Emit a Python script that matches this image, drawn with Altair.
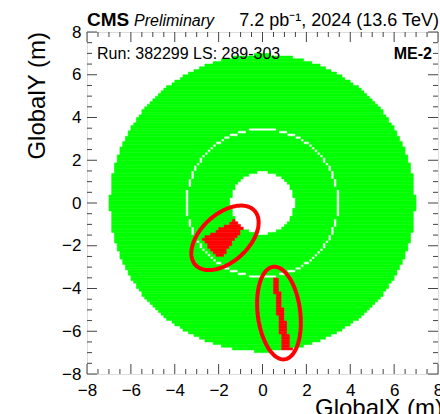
import altair as alt
import numpy as np
import pandas as pd

# Axis range (m) and 2D histogram binning
AXIS_MIN, AXIS_MAX = -8.0, 8.0
BIN_SIZE = 0.125
MAJOR_STEP, MINOR_STEP = 2.0, 0.5

# Station geometry (m): central hole, boundary between inner/outer ring, outer edge
R_HOLE = 1.45
R_SPLIT = 3.45
R_SPLIT_HALF_GAP = 0.05
R_OUTER = 6.95

# Chambers flagged as hot: radial extent (m) and azimuth range (deg)
HOT_R_IN = [1.45, 3.50]
HOT_R_OUT = [3.20, 6.95]
HOT_PHI_LO = [211.0, 277.5]
HOT_PHI_HI = [234.0, 281.0]

# Highlight ellipses around the hot chambers (m, deg)
ELL_CX = [-1.71, 0.75]
ELL_CY = [-1.63, -5.15]
ELL_A = [1.85, 2.18]
ELL_B = [1.10, 0.97]
ELL_TILT = [44.0, 96.7]

GREEN, RED = "#00ff00", "#ff0000"
FONT = "Liberation Sans"
W, H = 351, 342

# ---- occupancy map -------------------------------------------------------
edges = np.arange(AXIS_MIN, AXIS_MAX + BIN_SIZE / 2, BIN_SIZE)
centers = (edges[:-1] + edges[1:]) / 2
xc, yc = np.meshgrid(centers, centers)
r = np.hypot(xc, yc)
phi = np.degrees(np.arctan2(yc, xc)) % 360

status = np.zeros(xc.shape, dtype=int)
live = (r >= R_HOLE) & (r <= R_OUTER) & (np.abs(r - R_SPLIT) >= R_SPLIT_HALF_GAP)
status[live] = 1
for i in range(len(HOT_R_IN)):
    hot = (live & (r >= HOT_R_IN[i]) & (r <= HOT_R_OUT[i])
           & (phi >= HOT_PHI_LO[i]) & (phi <= HOT_PHI_HI[i]))
    status[hot] = 2

# merge neighbouring bins of a row into runs to keep the SVG light
runs = []
n = len(centers)
for j in range(n):
    row = status[j]
    k = 0
    while k < n:
        if row[k] == 0:
            k += 1
            continue
        start, val = k, row[k]
        while k < n and row[k] == val:
            k += 1
        runs.append({"x0": edges[start], "x1": edges[k],
                     "y0": edges[j], "y1": edges[j + 1],
                     "state": "live" if val == 1 else "hot"})
cells = pd.DataFrame(runs)

xscale = alt.Scale(domain=[AXIS_MIN, AXIS_MAX], nice=False, zero=False)
yscale = alt.Scale(domain=[AXIS_MIN, AXIS_MAX], nice=False, zero=False)
state_scale = alt.Scale(domain=["live", "hot"], range=[GREEN, RED])
major_vals = [float(v) for v in np.arange(AXIS_MIN, AXIS_MAX + 0.01, MAJOR_STEP)]

x_axis = alt.Axis(values=major_vals, ticks=False, tickSize=0, domain=False, grid=False,
                  labelFont=FONT, labelFontSize=17, labelColor="black",
                  labelPadding=8, labelFlush=False, labelOverlap=False, title=None)
y_axis = alt.Axis(values=major_vals, ticks=False, tickSize=0, domain=False, grid=False,
                  labelFont=FONT, labelFontSize=17, labelColor="black",
                  labelPadding=6, labelFlush=False, labelOverlap=False, title=None)


def xenc(field):
    return alt.X(field, scale=xscale, axis=x_axis)


def yenc(field):
    return alt.Y(field, scale=yscale, axis=y_axis)


occupancy = alt.Chart(cells).mark_rect(strokeWidth=0.5).encode(
    x=xenc("x0:Q"),
    x2="x1:Q",
    y=yenc("y0:Q"),
    y2="y1:Q",
    color=alt.Color("state:N", scale=state_scale, legend=None),
    stroke=alt.Stroke("state:N", scale=state_scale, legend=None),
)

# ---- highlight ellipses --------------------------------------------------
ell_rows = []
t = np.linspace(0, 2 * np.pi, 121)
for i in range(len(ELL_CX)):
    a, b = ELL_A[i], ELL_B[i]
    th = np.radians(ELL_TILT[i])
    ex = ELL_CX[i] + a * np.cos(t) * np.cos(th) - b * np.sin(t) * np.sin(th)
    ey = ELL_CY[i] + a * np.cos(t) * np.sin(th) + b * np.sin(t) * np.cos(th)
    for k in range(len(t)):
        ell_rows.append({"id": i, "k": k, "ex": ex[k], "ey": ey[k]})
ellipses = alt.Chart(pd.DataFrame(ell_rows)).mark_line(
    color=RED, strokeWidth=4
).encode(
    x=xenc("ex:Q"),
    y=yenc("ey:Q"),
    detail="id:N",
    order="k:Q",
)

# ---- inward ticks on all four sides --------------------------------------
all_vals = np.arange(AXIS_MIN, AXIS_MAX + 0.01, MINOR_STEP)
is_major = [abs(v / MAJOR_STEP - round(v / MAJOR_STEP)) < 1e-9 for v in all_vals]
major_df = pd.DataFrame({"v": [v for v, m in zip(all_vals, is_major) if m]})
minor_df = pd.DataFrame({"v": [v for v, m in zip(all_vals, is_major) if not m]})

TICK_COLOR = "#444444"


def tick_layers(df, length):
    base = alt.Chart(df).mark_rule(color=TICK_COLOR, strokeWidth=1)
    return [
        base.encode(x=xenc("v:Q"), y=alt.value(H), y2=alt.value(H - length)),
        base.encode(x=xenc("v:Q"), y=alt.value(0), y2=alt.value(length)),
        base.encode(y=yenc("v:Q"), x=alt.value(0), x2=alt.value(length)),
        base.encode(y=yenc("v:Q"), x=alt.value(W), x2=alt.value(W - length)),
    ]


ticks = tick_layers(major_df, 10) + tick_layers(minor_df, 5)


# ---- texts ---------------------------------------------------------------
def label(txt, x, y, size, align="left", weight="normal", style="normal", angle=0):
    kw = dict(align=align, baseline="alphabetic", font=FONT, fontSize=size,
              fontWeight=weight, fontStyle=style, color="black")
    if angle:
        kw["angle"] = angle
    return alt.Chart(pd.DataFrame({"t": [txt]})).mark_text(**kw).encode(
        text="t:N", x=alt.value(x), y=alt.value(y)
    )


texts = [
    label("CMS", 0, -6, 19, weight="bold"),
    label("Preliminary", 47, -6, 16, style="italic"),
    label("7.2 pb\u207b\u00b9, 2024 (13.6 TeV)", 352, -6, 18, align="right"),
    label("Run: 382299 LS: 289-303", 10, 27, 16),
    label("ME-2", 345, 27, 16, align="right", weight="bold"),
    label("GlobalX (m)", 228, 384, 24),
    label("GlobalY (m)", -42, 0, 24, align="right", angle=270),
]

chart = alt.layer(occupancy, ellipses, *ticks, *texts).properties(
    width=W, height=H,
    autosize=alt.AutoSizeParams(type="none"),
    padding={"left": 87, "top": 32, "right": 2, "bottom": 40},
).configure_view(
    stroke=TICK_COLOR, strokeWidth=1
).configure(background="white")

chart.save("out.html", embed_options={"renderer": "svg", "actions": False})
